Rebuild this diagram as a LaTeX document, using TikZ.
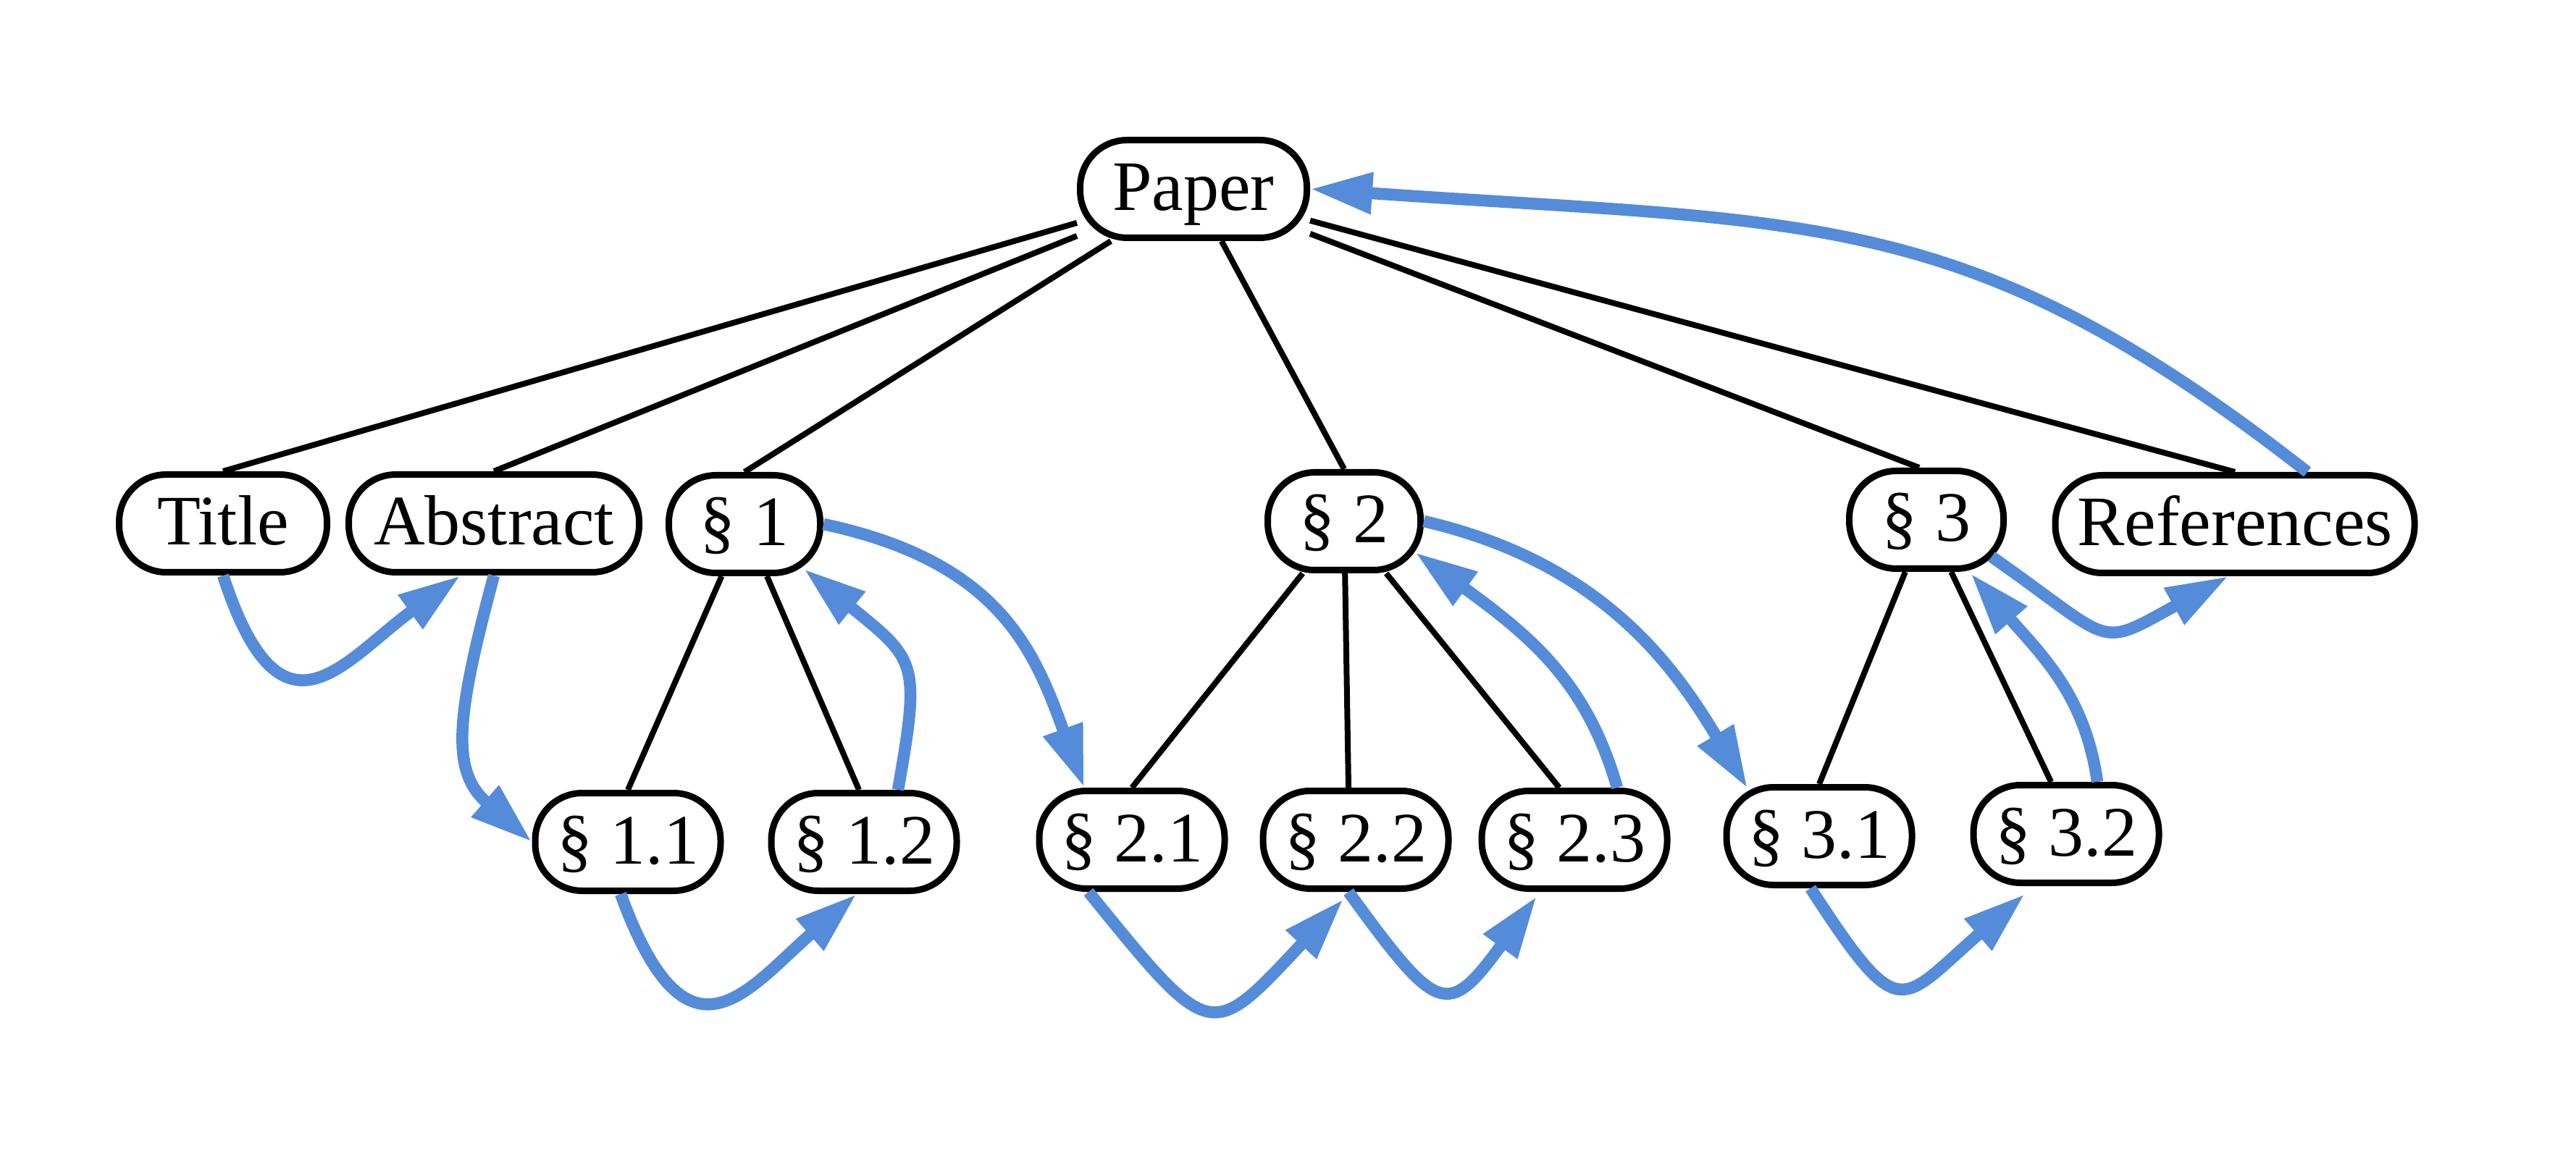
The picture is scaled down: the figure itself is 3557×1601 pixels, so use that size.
\documentclass[tikz,border=0pt]{standalone}
\usepackage{fontspec}
\setmainfont{Liberation Serif}
\usetikzlibrary{arrows.meta}
\definecolor{edgeblue}{RGB}{84,140,217}
\begin{document}
\begin{tikzpicture}[x=0.1pt,y=0.1pt,
  box/.style={draw, line width=0.9pt, fill=white, rounded corners=6.5pt,
    minimum height=13.5pt, inner sep=0pt, text height=6pt, text depth=0pt,
    font=\fontsize{9.8}{11}\selectfont},
  sub/.style={box, minimum width=25.6pt},
  tree/.style={line width=0.8pt},
  flow/.style={draw=edgeblue, line width=1.65pt, -{Triangle[length=8.6pt,width=5.4pt]}}
]
\useasboundingbox (0,0) rectangle (3557,-1601);
% nodes
\node[box, minimum width=31.3pt] (paper) at (1648,-261) {Paper};
\node[box, minimum width=28.7pt] (title) at (308,-723) {Title};
\node[box, minimum width=40.1pt] (abstract) at (682,-723) {Abstract};
\node[box, minimum width=20.9pt] (s1) at (1028,-724) {§ 1};
\node[box, minimum width=21.1pt] (s2) at (1856,-720) {§ 2};
\node[box, minimum width=21.3pt] (s3) at (2660,-718) {§ 3};
\node[box, minimum width=49.6pt] (refs) at (3086,-724) {References};
\node[sub] (s11) at (867,-1163) {§ 1.1};
\node[sub] (s12) at (1193,-1163) {§ 1.2};
\node[sub] (s21) at (1563,-1160) {§ 2.1};
\node[sub] (s22) at (1872,-1160) {§ 2.2};
\node[sub] (s23) at (2174,-1160) {§ 2.3};
\node[sub] (s31) at (2512,-1155) {§ 3.1};
\node[sub] (s32) at (2853,-1152) {§ 3.2};
% tree edges
\draw[tree] (paper) -- (title.north);
\draw[tree] (paper) -- (abstract.north);
\draw[tree] (paper) -- (s1.north);
\draw[tree] (paper) -- (s2.north);
\draw[tree] (paper) -- ([xshift=-1pt]s3.north);
\draw[tree] (paper) -- (refs.north);
\draw[tree] (s1) -- (s11.north);
\draw[tree] (s1) -- ([xshift=-0.7pt]s12.north);
\draw[tree] (s2) -- (s21.north);
\draw[tree] (s2) -- ([xshift=-1pt]s22.north);
\draw[tree] (s2) -- ([xshift=-2.1pt]s23.north);
\draw[tree] (s3) -- (s31.north);
\draw[tree] (s3) -- ([xshift=-2.1pt]s32.north);
% reading-order arrows
\draw[flow] (title.south) to[out=-72,in=-144,out distance=26pt,in distance=20pt] ([xshift=-4.6pt]abstract.south);
\draw[flow] (abstract.south) to[out=-105,in=139,out distance=20pt,in distance=15pt] (s11.west);
\draw[flow] ([xshift=-1pt]s11.south) to[out=-70,in=-139,out distance=27pt,in distance=20pt] ([xshift=-1pt]s12.south);
\draw[flow] ([xshift=4.7pt]s12.north) to[out=80,in=-39,out distance=18pt,in distance=20pt] ([shift={(8.2pt,1pt)}]s1.south);
\draw[flow] (s1.east) to[out=-12,in=110,out distance=25pt,in distance=20pt] ([xshift=-6.6pt]s21.north);
\draw[flow] ([xshift=-6pt]s21.south) to[out=-51,in=-133,out distance=27pt,in distance=27pt] ([shift={(-1.7pt,-1pt)}]s22.south);
\draw[flow] ([xshift=-1pt]s22.south) to[out=-54,in=-126,out distance=21pt,in distance=21pt] ([shift={(-5.2pt,-0.6pt)}]s23.south);
\draw[flow] ([xshift=5.9pt]s23.north) to[out=106,in=-36,out distance=15pt,in distance=20pt] ([shift={(9.8pt,-4.3pt)}]s2.center);
\draw[flow] (s2.east) to[out=-13,in=121,out distance=25pt,in distance=20pt] ([shift={(-9.9pt,-0.6pt)}]s31.north);
\draw[flow] ([xshift=-1.2pt]s31.south) to[out=-57,in=-139,out distance=23pt,in distance=23pt] ([shift={(-5.7pt,-1.1pt)}]s32.south);
\draw[flow] ([xshift=4.3pt]s32.north) to[out=98,in=-49,out distance=12pt,in distance=15pt] ([shift={(6.1pt,-7.4pt)}]s3.center);
\draw[flow] ([shift={(9pt,-5.1pt)}]s3.center) to[out=-35,in=-151,out distance=21pt,in distance=21pt] ([xshift=-0.9pt]refs.south);
\draw[flow] ([xshift=10pt]refs.north) to[out=142,in=-4,out distance=60pt,in distance=70pt] (paper.east);
\end{tikzpicture}
\end{document}
